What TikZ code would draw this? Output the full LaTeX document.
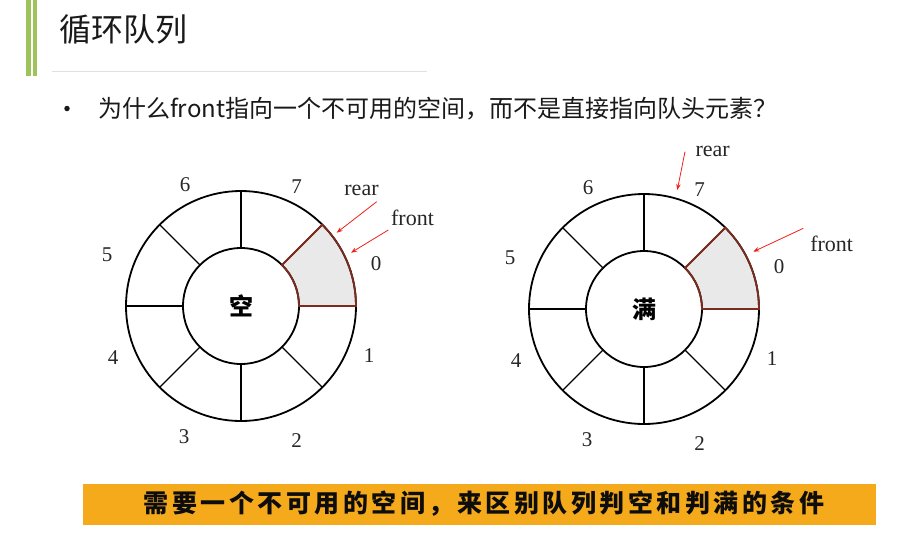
\documentclass[tikz,border=0pt]{standalone}
\usepackage{fontspec}
\newfontfamily\cjk{Noto Sans CJK SC}
\newfontfamily\numfont{Liberation Serif}
\usetikzlibrary{arrows.meta}
\definecolor{bargreen}{HTML}{9DC35A}
\definecolor{bannerorange}{HTML}{F5AA1C}
\definecolor{sectred}{HTML}{7B2C1F}
\definecolor{sectfill}{HTML}{E9E9E9}
\definecolor{ptrred}{HTML}{F0201A}
\tikzset{
  ringline/.style={line width=1.8pt, black},
  divider/.style={line width=1.3pt, black},
  sectline/.style={line width=1.8pt, sectred},
  idx/.style={font=\numfont\fontsize{21}{24}\selectfont, text=black!85},
  ptrlabel/.style={font=\numfont\fontsize{22}{24}\selectfont, text=black!85},
  ptr/.style={ptrred, line width=0.8pt, -{Stealth[length=6pt,width=4.5pt]}},
  centerlabel/.style={font=\cjk\bfseries\fontsize{24}{28}\selectfont}
}
\newcommand{\drawring}[3]{%
  \begin{scope}[shift={#1}]
    \fill[sectfill] (0:58) arc(0:45:58) -- (45:115) arc(45:0:115) -- cycle;
    \draw[ringline] (0,0) circle (115);
    \draw[ringline] (0,0) circle (58);
    \foreach \a in {45,90,...,315} \draw[divider] (\a:58) -- (\a:115);
    \draw[sectline] (0:58) arc(0:45:58) -- (45:115) arc(45:0:115) -- cycle;
    \node[centerlabel] (#2c) at (0,0) {#3};
    \node[idx] (#2n6) at (-56,121) {6};
    \node[idx] (#2n7) at (55.5,119) {7};
    \node[idx] (#2n0) at (135,42) {0};
    \node[idx] (#2n1) at (128,-50) {1};
    \node[idx] (#2n2) at (55.5,-134.5) {2};
    \node[idx] (#2n3) at (-57,-131) {3};
    \node[idx] (#2n4) at (-128,-52) {4};
    \node[idx] (#2n5) at (-134,51) {5};
  \end{scope}}
\begin{document}
\begin{tikzpicture}[x=1pt,y=1pt]
\useasboundingbox (0,0) rectangle (906,-547);
\fill[white] (0,0) rectangle (906,-547);
% left green bars
\fill[bargreen] (26,0) rectangle (31,-76);
\fill[bargreen] (32.7,0) rectangle (37.3,-76);
% title
\node[anchor=west, inner sep=0pt, font=\cjk\fontsize{32}{36}\selectfont, text=black!90] (title) at (59,-29) {循环队列};
\draw[black!12, line width=1pt] (52,-71) -- (427,-71);
% question
\node[circle, fill=black!90, inner sep=0pt, minimum size=5.5pt] (bullet) at (67,-108.5) {};
\node[anchor=west, inner sep=0pt, font=\cjk\fontsize{24}{28}\selectfont, text=black!90] (q) at (98,-109) {为什么front指向一个不可用的空间，而不是直接指向队头元素？};
% rings
\drawring{(241,-306)}{L}{空}
\drawring{(644,-309)}{R}{满}
% left pointers
\node[ptrlabel] (Lrear) at (361.5,-190) {rear};
\node[ptrlabel] (Lfront) at (412.5,-218) {front};
\coordinate (Lrs) at (376.7,-201.7);
\coordinate (Lre) at (336.7,-232.7);
\coordinate (Lfs) at (388.3,-230);
\coordinate (Lfe) at (351,-252.7);
\draw[ptr] (Lrs) -- (Lre);
\draw[ptr] (Lfs) -- (Lfe);
% right pointers
\node[ptrlabel] (Rrear) at (712.7,-151.7) {rear};
\node[ptrlabel] (Rfront) at (831.7,-244) {front};
\coordinate (Rrs) at (685,-151.7);
\coordinate (Rre) at (677.3,-190);
\coordinate (Rfs) at (803.3,-228.3);
\coordinate (Rfe) at (753.3,-251.7);
\draw[ptr] (Rrs) -- (Rre);
\draw[ptr] (Rfs) -- (Rfe);
% banner
\node[fill=bannerorange, minimum width=793pt, minimum height=41pt, inner sep=0pt] (banner) at (479.5,-504) {};
\node[font=\cjk\bfseries\fontsize{25}{28}\selectfont\addfontfeature{LetterSpace=14}, text=black!95] (bannertext) at (484,-504) {需要一个不可用的空间，来区别队列判空和判满的条件};
\end{tikzpicture}
\end{document}
